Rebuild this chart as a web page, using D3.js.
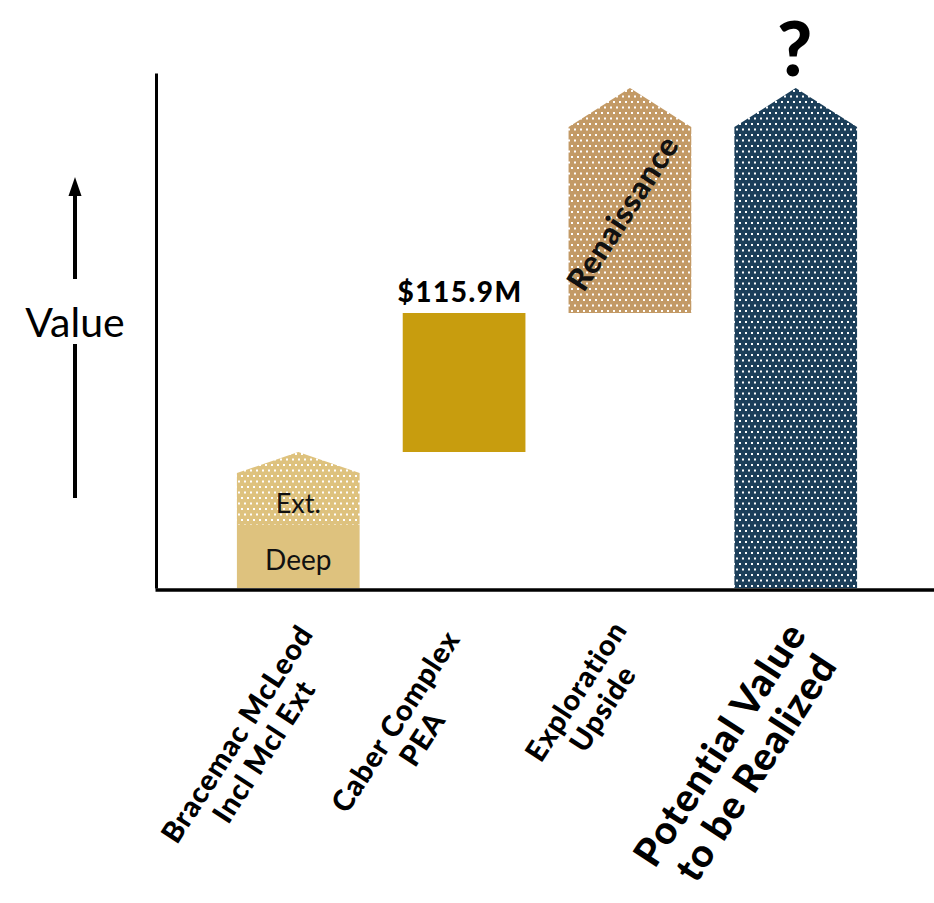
<!DOCTYPE html>
<html>
<head>
<meta charset="utf-8">
<script src="https://cdn.jsdelivr.net/npm/d3@7"></script>
<style>
    body { margin: 0; background: #ffffff; }
    svg { display: block; font-family: "Lato", "Open Sans", sans-serif; }
</style>
</head>
<body>
<div id="chart"><svg></svg></div>
<script>
// categories along the bottom, each split into label lines
var categories = ["bracemac", "caber", "exploration", "potential"];
var categoryLines = [
    ["Bracemac McLeod", "Incl Mcl Ext"],
    ["Caber Complex", "PEA"],
    ["Exploration", "Upside"],
    ["Potential Value", "to be Realized"]
];

// waterfall segments (value units, arbitrary scale)
var segCategory = ["bracemac", "bracemac", "caber", "exploration", "potential"];
var segFrom = [0, 12.6, 27.2, 55, 0];
var segTo = [12.6, 23, 55, 92.2, 92.2];
var segPeak = [null, 27.2, null, 100, 100];
var segLabel = ["Deep", "Ext.", "", "Renaissance", ""];
var segKind = ["deep", "ext", "pea", "upside", "potential"];

var valueLabel = "$115.9M";
var yMax = 103;

var width = 934, height = 903;

var svg = d3.select("#chart svg").attr("width", width).attr("height", height);
var defs = svg.append("defs");

var x = d3.scaleBand()
    .domain(categories)
    .range([154, 940])
    .paddingInner(0.26)
    .paddingOuter(0.5);

var y = d3.scaleLinear()
    .domain([0, yMax])
    .range([588, 73]);

var baseColor = d3.scaleOrdinal()
    .domain(["deep", "ext", "pea", "upside", "potential"])
    .range(["#dec27e", "#dec27e", "#c89d0e", "#c39a66", "#1c3f5a"]);

var dotted = {ext: true, upside: true, potential: true};

// white dot patterns, staggered rows
Object.keys(dotted).forEach(function(k) {
    var p = defs.append("pattern")
        .attr("id", "dots-" + k)
        .attr("patternUnits", "userSpaceOnUse")
        .attr("width", 6)
        .attr("height", 11)
        .attr("x", 1)
        .attr("y", 2);
    p.append("rect").attr("width", 6).attr("height", 11).attr("fill", baseColor(k));
    p.append("rect").attr("x", 0).attr("y", 0).attr("width", 2).attr("height", 2).attr("fill", "#ffffff");
    p.append("rect").attr("x", 3).attr("y", 5.5).attr("width", 2).attr("height", 2).attr("fill", "#ffffff");
});

var segments = d3.range(segFrom.length);

// bars (pentagon tops where there is a peak)
svg.append("g")
    .attr("class", "bars")
    .selectAll("path")
    .data(segments)
    .enter().append("path")
    .attr("d", function(i) {
        var x0 = x(segCategory[i]), x1 = x0 + x.bandwidth();
        var p = d3.path();
        p.moveTo(x0, y(segFrom[i]));
        p.lineTo(x0, y(segTo[i]));
        if (segPeak[i] != null) {
            p.lineTo((x0 + x1) / 2, y(segPeak[i]));
        }
        p.lineTo(x1, y(segTo[i]));
        p.lineTo(x1, y(segFrom[i]));
        p.closePath();
        return p.toString();
    })
    .attr("fill", function(i) {
        return dotted[segKind[i]] ? "url(#dots-" + segKind[i] + ")" : baseColor(segKind[i]);
    });

// labels inside the Bracemac bar
svg.append("g")
    .selectAll("text")
    .data(segments.filter(function(i) { return segLabel[i] && segKind[i] != "upside"; }))
    .enter().append("text")
    .attr("x", function(i) { return x(segCategory[i]) + x.bandwidth() / 2; })
    .attr("y", function(i) { return segKind[i] == "deep" ? y(segFrom[i]) - 18 : y(segFrom[i]) - 12; })
    .attr("text-anchor", "middle")
    .style("font-size", function(i) { return segKind[i] == "deep" ? "28px" : "27px"; })
    .style("fill", "#111111")
    .text(function(i) { return segLabel[i]; });

// Renaissance, rotated
segments.filter(function(i) { return segKind[i] == "upside"; }).forEach(function(i) {
    var cx = x(segCategory[i]) + x.bandwidth() / 2;
    var cy = y((segFrom[i] + segTo[i]) / 2);
    svg.append("text")
        .attr("transform", "translate(" + (cx - 7) + "," + (cy - 7) + ") rotate(-57)")
        .attr("text-anchor", "middle")
        .attr("dy", "0.35em")
        .style("font-size", "31px")
        .style("font-weight", 900)
        .style("letter-spacing", "0.7px")
        .style("fill", "#111111")
        .text(segLabel[i]);
});

// value above Caber bar
svg.append("text")
    .attr("x", x("caber") + x.bandwidth() / 2 - 4)
    .attr("y", y(segTo[2]) - 11)
    .attr("text-anchor", "middle")
    .style("font-size", "28px")
    .style("font-weight", 900)
    .style("letter-spacing", "1.5px")
    .text(valueLabel);

// question mark over the last bar
svg.append("text")
    .attr("x", x("potential") + x.bandwidth() / 2 - 1)
    .attr("y", 76)
    .attr("text-anchor", "middle")
    .style("font-size", "76px")
    .style("font-weight", 900)
    .text("?");

// axes, lines only
svg.append("g")
    .attr("class", "y axis")
    .attr("transform", "translate(156,0)")
    .call(d3.axisLeft(y).tickValues([]).tickSizeOuter(0))
    .select(".domain")
    .attr("stroke", "#000")
    .attr("stroke-width", 3);

svg.append("g")
    .attr("class", "x axis")
    .attr("transform", "translate(0,589.5)")
    .call(d3.axisBottom(x.copy().range([155, 945])).tickValues([]).tickSizeOuter(0))
    .select(".domain")
    .attr("stroke", "#000")
    .attr("stroke-width", 3.5);

// category labels, rotated, lines centred on each other;
// nudge = end of first line relative to the band centre
var labelNudge = [[16, 634], [-3, 639], [-2, 630], [12, 634]];
var labels = svg.append("g").attr("class", "xlabels");
categories.forEach(function(c, k) {
    var big = c == "potential";
    var fs = big ? 39 : 29;
    var g = labels.append("g")
        .attr("transform", "translate(" + (x(c) + x.bandwidth() / 2 + labelNudge[k][0]) + "," + labelNudge[k][1] + ") rotate(-57)");
    var t = g.append("text")
        .attr("text-anchor", "middle")
        .style("font-size", fs + "px")
        .style("font-weight", 900)
        .style("letter-spacing", big ? "1.2px" : "0.9px");
    var spans = t.selectAll("tspan")
        .data(categoryLines[k])
        .enter().append("tspan")
        .attr("dy", function(d, j) { return j == 0 ? 0 : fs * 1.1; })
        .text(function(d) { return d; });
    var w = d3.max(spans.nodes(), function(n) { return n.getComputedTextLength(); });
    spans.attr("x", -w / 2);
});

// "Value" with arrow
svg.append("line")
    .attr("x1", 75).attr("x2", 75)
    .attr("y1", 279).attr("y2", 192)
    .attr("stroke", "#000")
    .attr("stroke-width", 4);

svg.append("path")
    .attr("d", d3.line()([[75, 177], [81.5, 196], [68.5, 196]]) + "Z")
    .attr("fill", "#000");

svg.append("line")
    .attr("x1", 75).attr("x2", 75)
    .attr("y1", 344).attr("y2", 498)
    .attr("stroke", "#000")
    .attr("stroke-width", 4);

svg.append("text")
    .attr("x", 75)
    .attr("y", 337)
    .attr("text-anchor", "middle")
    .style("font-size", "41px")
    .text("Value");
</script>
</body>
</html>
